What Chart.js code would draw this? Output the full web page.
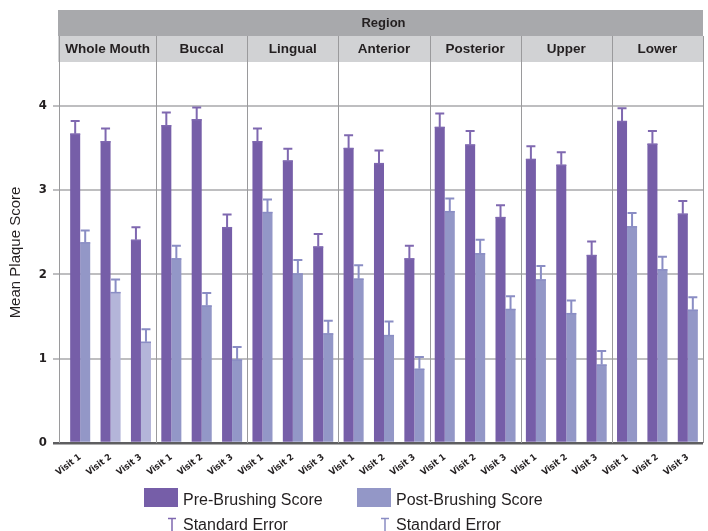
<!DOCTYPE html>
<html>
<head>
<meta charset="utf-8">
<script src="https://cdn.jsdelivr.net/npm/chart.js@4.4.0/dist/chart.umd.min.js"></script>
<style>
  html, body { margin: 0; padding: 0; background: #ffffff; }
  #wrap { width: 708px; height: 531px; }
</style>
</head>
<body>
<div id="wrap"><canvas id="grafico"></canvas></div>
<script>
// Dados
const regioes = ['Whole Mouth', 'Buccal', 'Lingual', 'Anterior', 'Posterior', 'Upper', 'Lower'];
const visitas = ['Visit 1', 'Visit 2', 'Visit 3'];
const preBrushing = [3.67, 3.58, 2.41, 3.77, 3.84, 2.56, 3.58, 3.35, 2.33, 3.50, 3.32, 2.19, 3.75, 3.54, 2.68, 3.37, 3.30, 2.23, 3.82, 3.55, 2.72];
const preErro = [0.15, 0.15, 0.15, 0.15, 0.14, 0.15, 0.15, 0.14, 0.15, 0.15, 0.15, 0.15, 0.16, 0.16, 0.14, 0.15, 0.15, 0.16, 0.15, 0.15, 0.15];
const postBrushing = [2.38, 1.79, 1.20, 2.19, 1.63, 0.99, 2.74, 2.01, 1.30, 1.95, 1.28, 0.88, 2.75, 2.25, 1.59, 1.94, 1.54, 0.93, 2.57, 2.06, 1.58];
const postErro = [0.14, 0.15, 0.15, 0.15, 0.15, 0.15, 0.15, 0.16, 0.15, 0.16, 0.16, 0.14, 0.15, 0.16, 0.15, 0.16, 0.15, 0.16, 0.16, 0.15, 0.15];
const yTicks = [0, 1, 2, 3, 4];

// Cores
const corPre = '#765ea8';
const corPos = '#9397c7';
const corPosClaro = '#b4b5d9';
const corErroPre = '#7f68b0';
const corErroPos = '#8a8dc4';
const corTexto = '#231f20';
const fonteNormal = "'Liberation Sans', Arial, sans-serif";
const fonteEstreita = "'Liberation Sans Narrow', 'DejaVu Sans Condensed', 'Liberation Sans', sans-serif";

const labels = [];
regioes.forEach(() => visitas.forEach(v => labels.push(v)));

// Whole Mouth visitas 2 e 3 aparecem mais claras no original
const coresPos = postBrushing.map((v, i) => (i === 1 || i === 2) ? corPosClaro : corPos);

const recuoEixo = 6; // linha do eixo fica um pouco à esquerda da área dos dados

// Cabeçalho "Region" + divisórias entre as regiões
const cabecalho = {
  id: 'cabecalho',
  beforeDraw(chart) {
    const { ctx, chartArea } = chart;
    const esq = chartArea.left - recuoEixo - 1;
    const larg = chartArea.right - esq;
    ctx.save();
    ctx.fillStyle = '#a8a9ac';
    ctx.fillRect(esq, 10, larg, 26);
    ctx.fillStyle = '#d1d2d4';
    ctx.fillRect(esq, 36, larg, 26);
    ctx.fillStyle = corTexto;
    ctx.textAlign = 'center';
    ctx.textBaseline = 'middle';
    ctx.font = 'bold 13px ' + fonteNormal;
    ctx.fillText('Region', (esq + chartArea.right) / 2 + 3, 23.5);
    ctx.font = 'bold 13.5px ' + fonteNormal;
    const x = chart.scales.x;
    regioes.forEach((r, g) => {
      const ini = g === 0 ? chartArea.left - recuoEixo : (x.getPixelForValue(g * 3 - 1) + x.getPixelForValue(g * 3)) / 2;
      const fim = g === regioes.length - 1 ? chartArea.right : (x.getPixelForValue(g * 3 + 2) + x.getPixelForValue(g * 3 + 3)) / 2;
      ctx.fillText(r, (ini + fim) / 2, 49.5);
    });
    ctx.restore();
  },
  beforeDatasetsDraw(chart) {
    const { ctx, chartArea } = chart;
    const x = chart.scales.x;
    const xs = [chartArea.left - recuoEixo];
    for (let g = 1; g < regioes.length; g++) {
      xs.push((x.getPixelForValue(g * 3 - 1) + x.getPixelForValue(g * 3)) / 2);
    }
    xs.push(chartArea.right);
    ctx.save();
    ctx.strokeStyle = '#9a9a9c';
    ctx.lineWidth = 1;
    ctx.beginPath();
    xs.forEach(px => {
      const xx = Math.round(px) + 0.5;
      ctx.moveTo(xx, 36);
      ctx.lineTo(xx, chartArea.bottom);
    });
    ctx.stroke();
    ctx.restore();
  }
};

// Barras de erro (erro padrão)
const barrasErro = {
  id: 'barrasErro',
  afterDatasetsDraw(chart) {
    const ctx = chart.ctx;
    const y = chart.scales.y;
    [[0, preErro, corErroPre], [1, postErro, corErroPos]].forEach(([ds, erros, cor]) => {
      const meta = chart.getDatasetMeta(ds);
      meta.data.forEach((bar, i) => {
        const valor = chart.data.datasets[ds].data[i];
        const yTopo = y.getPixelForValue(valor + erros[i]);
        ctx.save();
        ctx.strokeStyle = cor;
        ctx.lineWidth = 2;
        ctx.beginPath();
        ctx.moveTo(bar.x, bar.y);
        ctx.lineTo(bar.x, yTopo);
        ctx.moveTo(bar.x - 4.5, yTopo);
        ctx.lineTo(bar.x + 4.5, yTopo);
        ctx.stroke();
        ctx.lineWidth = 1.5;
        ctx.beginPath();
        ctx.moveTo(bar.x - bar.width / 2, bar.y + 0.5);
        ctx.lineTo(bar.x + bar.width / 2, bar.y + 0.5);
        ctx.stroke();
        ctx.restore();
      });
    });
  }
};

// Legenda desenhada à mão (duas linhas)
const legenda = {
  id: 'legenda',
  afterDraw(chart) {
    const ctx = chart.ctx;
    ctx.save();
    ctx.textBaseline = 'alphabetic';
    ctx.textAlign = 'left';
    ctx.font = '16px ' + fonteNormal;
    const itens = [
      { x: 144, cor: corPre, erro: corErroPre, texto: 'Pre-Brushing Score' },
      { x: 357, cor: corPos, erro: corErroPos, texto: 'Post-Brushing Score' }
    ];
    itens.forEach(it => {
      ctx.fillStyle = it.cor;
      ctx.fillRect(it.x, 488, 34, 19);
      ctx.fillStyle = corTexto;
      ctx.fillText(it.texto, it.x + 39, 505);
      ctx.fillText('Standard Error', it.x + 39, 530);
      // símbolo T
      ctx.strokeStyle = it.erro;
      ctx.lineWidth = 1.5;
      ctx.beginPath();
      ctx.moveTo(it.x + 28, 531);
      ctx.lineTo(it.x + 28, 518.5);
      ctx.moveTo(it.x + 24, 518.5);
      ctx.lineTo(it.x + 32, 518.5);
      ctx.stroke();
    });
    ctx.restore();
  }
};

const ctx = document.getElementById('grafico');

new Chart(ctx, {
  type: 'bar',
  data: {
    labels: labels,
    datasets: [
      {
        label: 'Pre-Brushing Score',
        data: preBrushing,
        backgroundColor: corPre,
        borderWidth: 0,
        categoryPercentage: 0.66,
        barPercentage: 1.0
      },
      {
        label: 'Post-Brushing Score',
        data: postBrushing,
        backgroundColor: coresPos,
        borderWidth: 0,
        categoryPercentage: 0.66,
        barPercentage: 1.0
      }
    ]
  },
  options: {
    responsive: true,
    maintainAspectRatio: false,
    animation: false,
    layout: { padding: { top: 62, right: 5, bottom: 0, left: 0 } },
    scales: {
      x: {
        afterFit: s => { s.height = 88; },
        grid: { display: false },
        border: { display: false },
        ticks: {
          color: corTexto,
          autoSkip: false,
          minRotation: 37,
          maxRotation: 37,
          padding: 1,
          font: { family: fonteEstreita, size: 9, weight: 'bold' }
        }
      },
      y: {
        min: 0,
        max: 4.52,
        afterBuildTicks: s => { s.ticks = yTicks.map(v => ({ value: v })); },
        afterFit: s => { s.width = 65; },
        border: { display: false },
        grid: {
          color: c => (c.tick && c.tick.value === 0) ? '#5e5e60' : '#bebec0',
          lineWidth: c => (c.tick && c.tick.value === 0) ? 2.5 : 2,
          tickLength: 12
        },
        ticks: {
          color: corTexto,
          padding: 6,
          font: { family: fonteEstreita, size: 13, weight: 'bold' }
        },
        title: {
          display: true,
          text: 'Mean Plaque Score',
          color: corTexto,
          padding: { top: 7, bottom: 0 },
          font: { family: fonteNormal, size: 15 }
        }
      }
    },
    plugins: {
      legend: { display: false },
      tooltip: { enabled: false }
    }
  },
  plugins: [cabecalho, barrasErro, legenda]
});
</script>
</body>
</html>
